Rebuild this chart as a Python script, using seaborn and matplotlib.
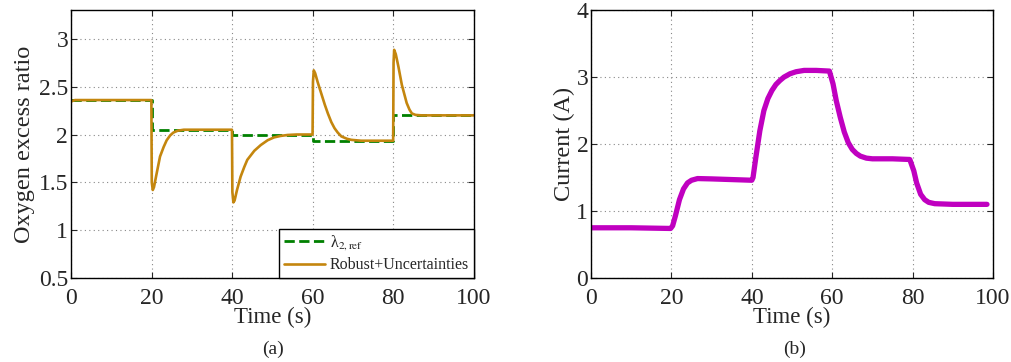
import matplotlib
matplotlib.use("Agg")
import matplotlib.pyplot as plt
import seaborn as sns
import pandas as pd
from matplotlib.ticker import FormatStrFormatter

# Oxygen excess ratio (a)
t_ref = [0, 20, 20, 40, 40, 60, 60, 80, 80, 100]
lam_ref = [2.36, 2.36, 2.05, 2.05, 2.0, 2.0, 1.935, 1.935, 2.2, 2.2]

t_ox = [0, 1, 5, 19.95, 20.05, 20.3, 20.6, 21.2, 22.1, 23.0, 23.75, 24.6, 25.4, 26.5, 28,
        39.95, 40.05, 40.3, 40.6, 41.2, 42.1, 43.0, 43.75, 45.5, 47.1, 48.8, 50.4, 52, 53.75, 56,
        59.95, 60.05, 60.25, 60.6, 61.2, 62.1, 63.0, 63.75, 64.6, 65.4, 66.2, 67.1, 68.5, 69.6, 72,
        79.95, 80.05, 80.2, 80.6, 81.25, 82.1, 83.3, 84.0, 84.6, 85.5, 87, 100]
lam_robust = [2.345, 2.36, 2.36, 2.36, 1.5, 1.42, 1.45, 1.58, 1.77, 1.87, 1.94, 1.99, 2.02, 2.04, 2.05,
              2.05, 1.4, 1.29, 1.31, 1.42, 1.56, 1.66, 1.735, 1.83, 1.89, 1.94, 1.97, 1.985, 1.995, 2.0,
              2.0, 2.55, 2.67, 2.64, 2.55, 2.43, 2.31, 2.22, 2.13, 2.066, 2.02, 1.98, 1.955, 1.944, 1.935,
              1.935, 2.75, 2.885, 2.84, 2.71, 2.52, 2.33, 2.26, 2.22, 2.205, 2.2, 2.2]

# Current (b)
t_cur = [0, 10, 19.8, 20.3, 21.0, 22.0, 23.0, 24.0, 25.0, 26.5, 30, 35, 40.0,
         40.3, 41.0, 42.0, 43.0, 44.0, 45.0, 46.0, 47.0, 48.0, 49.5, 51.0, 53.0, 56.0, 59.3,
         60.2, 61.0, 62.0, 63.0, 64.0, 65.0, 66.0, 67.0, 68.5, 70.0, 75.0, 79.3,
         80.3, 81.0, 82.0, 83.0, 84.0, 85.5, 90.0, 98.5]
current = [0.75, 0.75, 0.74, 0.78, 0.93, 1.17, 1.33, 1.42, 1.46, 1.485, 1.48, 1.47, 1.46,
           1.5, 1.8, 2.2, 2.5, 2.68, 2.8, 2.89, 2.95, 3.0, 3.05, 3.08, 3.1, 3.1, 3.09,
           2.9, 2.65, 2.4, 2.18, 2.02, 1.92, 1.86, 1.82, 1.79, 1.78, 1.78, 1.77,
           1.6, 1.42, 1.25, 1.17, 1.13, 1.11, 1.1, 1.1]

sns.set_style("ticks")
plt.rcParams['font.family'] = ['Liberation Serif', 'DejaVu Serif']
plt.rcParams['mathtext.fontset'] = 'stix'
plt.rcParams['xtick.direction'] = 'in'
plt.rcParams['ytick.direction'] = 'in'

fig = plt.figure(figsize=(10.11, 3.62), dpi=100)
ax1 = fig.add_axes([0.0702, 0.232, 0.3986, 0.740])
ax2 = fig.add_axes([0.5846, 0.232, 0.3976, 0.740])

df_ref = pd.DataFrame({"t": t_ref, "v": lam_ref})
df_ox = pd.DataFrame({"t": t_ox, "v": lam_robust})
df_cur = pd.DataFrame({"t": t_cur, "v": current})

sns.lineplot(data=df_ref, x="t", y="v", ax=ax1, estimator=None, sort=False,
             color="#008000", linestyle="--", linewidth=2.0, label="λ$_{2,\\mathrm{ref}}$")
sns.lineplot(data=df_ox, x="t", y="v", ax=ax1, estimator=None, sort=False,
             color="#C4860E", linewidth=1.9, label="Robust+Uncertainties")
sns.lineplot(data=df_cur, x="t", y="v", ax=ax2, estimator=None, sort=False,
             color="#C000C0", linewidth=3.8)

for ax in (ax1, ax2):
    ax.set_xlim(0, 100)
    ax.set_xticks([0, 20, 40, 60, 80, 100])
    ax.grid(True, linestyle=(0, (1, 3)), color="#888888", linewidth=0.8)
    ax.tick_params(labelsize=17, top=True, right=True, length=4, width=0.8, pad=2)
    ax.tick_params(axis="x", pad=7)
    for s in ax.spines.values():
        s.set_visible(True)
        s.set_color("black")
        s.set_linewidth(1.0)
    ax.set_xlabel("Time (s)", fontsize=16.5, labelpad=-1)
    ax.yaxis.set_major_formatter(FormatStrFormatter('%g'))

ax1.set_ylim(0.5, 3.3)
ax1.set_yticks([0.5, 1, 1.5, 2, 2.5, 3])
ax1.set_ylabel("Oxygen excess ratio", fontsize=17.5, labelpad=3)
ax2.set_ylim(0, 4)
ax2.set_yticks([0, 1, 2, 3, 4])
ax2.set_ylabel("Current (A)", fontsize=17.5, labelpad=1)

leg = ax1.legend(loc="lower right", fontsize=11.5, frameon=True, fancybox=False,
                 borderaxespad=0, handlelength=2.6, handletextpad=0.3,
                 labelspacing=0.3, borderpad=0.3)
leg.get_frame().set_edgecolor("black")
leg.get_frame().set_linewidth(1.0)
leg.get_frame().set_alpha(1)

fig.text(0.27, 0.022, "(a)", fontsize=14, ha="center")
fig.text(0.786, 0.022, "(b)", fontsize=14, ha="center")

fig.savefig("out.png", dpi=100)
